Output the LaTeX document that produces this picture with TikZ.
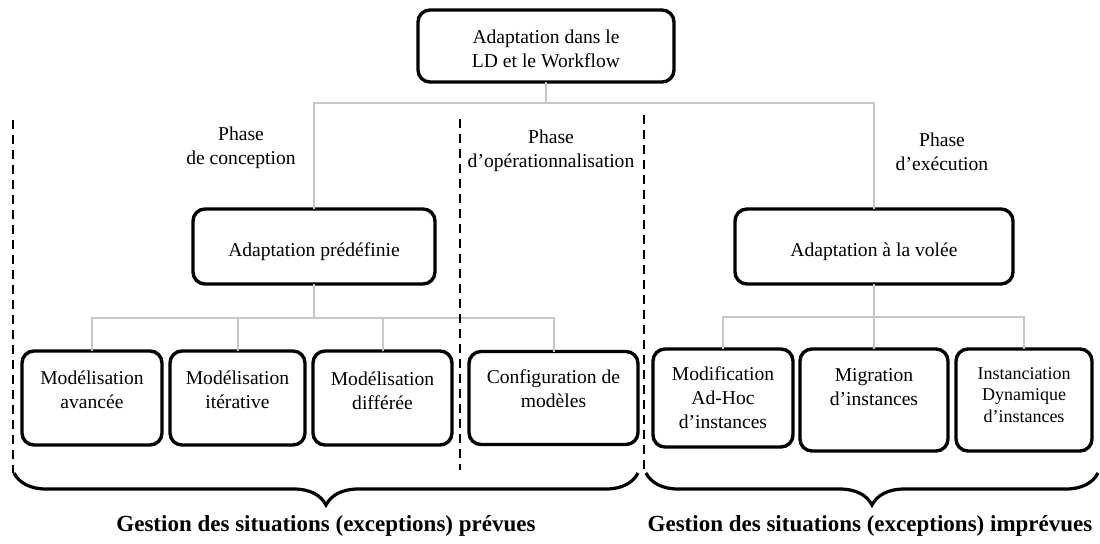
\documentclass[tikz,border=0pt]{standalone}
\usepackage{fontspec}
\setmainfont{Liberation Serif}
\usetikzlibrary{positioning, calc, decorations.pathreplacing}

% text of a box, raised by #1 above the box centre
\newcommand{\boxtext}[2]{\raisebox{\dimexpr #1-2.45pt\relax}[0pt][0pt]{\begin{tabular}[c]{@{}c@{}}#2\end{tabular}}}

\begin{document}
\begin{tikzpicture}[x=0.5pt, y=-0.5pt, node distance=4pt,
	box/.style={rectangle, draw, line width=1.7pt, rounded corners=6pt, inner sep=0pt, outer sep=0pt, font=\fontsize{9.8}{12}\selectfont},
	link/.style={draw=black!22, line width=1pt},
	sep/.style={draw, line width=1.4pt, dash pattern=on 4.5pt off 3pt},
	grp/.style={draw, line width=1.6pt, decorate, decoration={brace, mirror, amplitude=16pt}},
	phase/.style={align=center, font=\fontsize{9.8}{12}\selectfont}]
				\useasboundingbox (0,0) rectangle (1100,543);

				\node [box, minimum width=128pt, minimum height=36pt] (top) at (546,46) {\boxtext{-2.5pt}{Adaptation dans le\\LD et le Workflow}};
				\node [box, minimum width=121pt, minimum height=37.5pt] (pred) at (314,246.5) {\boxtext{-2.6pt}{Adaptation prédéfinie}};
				\node [box, minimum width=139pt, minimum height=37.5pt] (vol) at (874,246.5) {\boxtext{-2.6pt}{Adaptation à la volée}};

				\node [box, minimum width=70pt, minimum height=47pt] (avancee) at (92,398) {\boxtext{3pt}{Modélisation\\avancée}};
				\node [box, minimum width=67.5pt, minimum height=47pt, right=of avancee] (iterative) {\boxtext{3pt}{Modélisation\\itérative}};
				\node [box, minimum width=69.5pt, minimum height=47pt, right=of iterative] (differee) {\boxtext{2.8pt}{Modélisation\\différée}};
				\node [box, minimum width=84.5pt, minimum height=46.5pt, right=8.5pt of differee] (config) {\boxtext{3.8pt}{Configuration de\\modèles}};

				\node [box, minimum width=70pt, minimum height=49pt] (modif) at (723,398) {\boxtext{-0.7pt}{Modification\\Ad-Hoc\\d’instances}};
				\node [box, minimum width=74pt, minimum height=51pt, right=3.5pt of modif.north east, anchor=north west] (migration) {\boxtext{5.8pt}{Migration\\d’instances}};
				\node [box, minimum width=68pt, minimum height=51pt, right=of migration] (instanc) {\fontsize{9}{10.75}\selectfont\boxtext{2pt}{Instanciation\\Dynamique\\d’instances}};

				\node [phase] (phconc) at (241,148) {Phase\\de conception};
				\node [phase] (phop) at (551,151) {Phase\\d’opérationnalisation};
				\node [phase] (phexec) at (942,151.5) {Phase\\d’exécution};

				\coordinate (j0) at ($(top.south)+(0,21)$);
				\coordinate (j1) at ($(pred.south)+(0,34)$);
				\coordinate (j2) at ($(vol.south)+(0,33)$);

				\path[link]
				(top.south) -- (j0) -| (pred.north)
				(j0) -| (vol.north)
				(pred.south) -- (j1) -| (avancee.north)
				(j1) -| (iterative.north)
				(j1) -| (differee.north)
				(j1) -| (config.north)
				(vol.south) -- (j2) -| (modif.north)
				(j2) -| (migration.north)
				(j2) -| (instanc.north);

				% separations between the phases
				\coordinate (s1a) at (13,120);
				\coordinate (s1b) at (13,473);
				\coordinate (s2a) at (460,119);
				\coordinate (s2b) at (460,470);
				\coordinate (s3a) at (644,115);
				\coordinate (s3b) at (644,473);
				\path[sep] (s1a) -- (s1b) (s2a) -- (s2b) (s3a) -- (s3b);

				% braces
				\coordinate (b1a) at (14,473);
				\coordinate (b1b) at (638,473);
				\coordinate (b2a) at (646,473);
				\coordinate (b2b) at (1098,473);
				\path[grp] (b1a) -- (b1b);
				\path[grp] (b2a) -- (b2b);

				\node [font=\bfseries\fontsize{11.5}{14}\selectfont] (prevues) at (326,526) {Gestion des situations (exceptions) prévues};
				\node [font=\bfseries\fontsize{11.5}{14}\selectfont] (imprevues) at (870,526) {Gestion des situations (exceptions) imprévues};
			\end{tikzpicture}
\end{document}
